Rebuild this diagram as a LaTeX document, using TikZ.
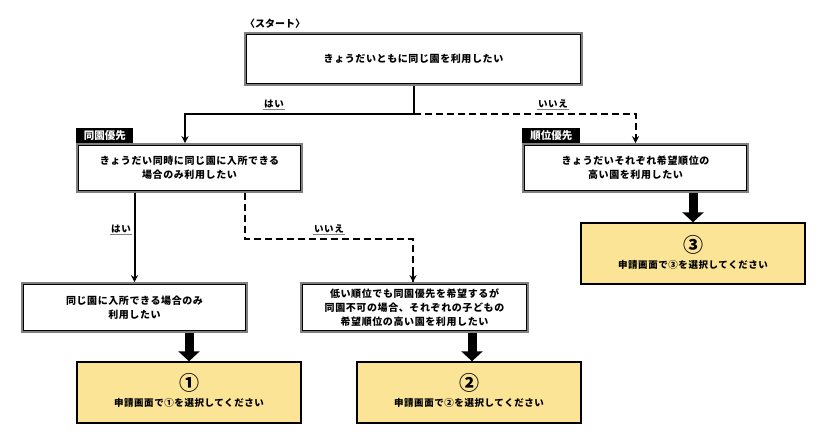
\documentclass[tikz,border=0pt]{standalone}
\usepackage{fontspec}
\usetikzlibrary{arrows.meta,calc}
\newfontfamily\jp{Noto Sans CJK JP}[LetterSpace=6]
\newfontfamily\jpn{Noto Sans CJK JP}
\definecolor{gold}{HTML}{FCE497}
\tikzset{
  outerbox/.style={draw=gray, line width=1.6pt, fill=white, inner sep=0pt},
  ybox/.style={draw=black, line width=1.4pt, fill=gold, inner sep=0pt},
  txt/.style={align=center, font=\jp\bfseries\fontsize{10}{14}\selectfont, inner sep=0pt},
  tag/.style={fill=black, text=white, font=\jpn\bfseries\fontsize{10.5}{12}\selectfont, inner sep=0pt, minimum height=15pt, anchor=south west},
  lbl/.style={font=\jp\bfseries\fontsize{9.5}{11}\selectfont, inner sep=1pt},
  conn/.style={line width=2pt, -{Stealth[length=7pt,width=7pt]}},
  plain/.style={line width=2pt},
  dashconn/.style={line width=2pt, dash pattern=on 7pt off 4pt},
  fat/.style={line width=9pt, -{Triangle[width=21pt,length=10pt]}},
  uline/.style={draw=gray, line width=1pt},
}
\newcommand{\dblbox}[5]{%
  \node[outerbox, minimum width=#3pt, minimum height=#4pt] (#1) at (#2) {};
  \draw[black, line width=1pt] ($(#1.north west)+(2.6,2.6)$) rectangle ($(#1.south east)+(-2.6,-2.6)$);
  \node[txt] (#1t) at (#1.center) {#5};
}
\begin{document}
\begin{tikzpicture}[x=1pt,y=-1pt]
\useasboundingbox (0,0) rectangle (832,440);
\fill[white] (0,0) rectangle (832,440);

% start label
\node[lbl, anchor=west, font=\jpn\bfseries\fontsize{10}{12}\selectfont] (st) at (244,24) {〈スタート〉};

% boxes
\dblbox{b1}{413.5,59}{337}{52}{きょうだいともに同じ園を利用したい}
\dblbox{b2}{189.5,168}{225}{48}{きょうだい同時に同じ園に入所できる\\場合のみ利用したい}
\dblbox{b3}{635.5,168}{225}{48}{きょうだいそれぞれ希望順位の\\高い園を利用したい}
\dblbox{b4}{134.5,307.5}{225}{49}{同じ園に入所できる場合のみ\\利用したい}
\dblbox{b5}{414.5,307.5}{227}{49}{低い順位でも同園優先を希望するが\\同園不可の場合、それぞれの子どもの\\希望順位の高い園を利用したい}

% tags
\node[tag, minimum width=57pt] (tg2) at (b2.north west) {同園優先};
\node[tag, minimum width=58pt] (tg3) at (b3.north west) {順位優先};

% yellow result boxes
\node[ybox, minimum width=224pt, minimum height=61pt] (b6) at (693,253.5) {};
\node[ybox, minimum width=224pt, minimum height=61pt] (b7) at (189,392.5) {};
\node[ybox, minimum width=224pt, minimum height=61pt] (b8) at (469,392.5) {};
\node[font=\jpn\bfseries\fontsize{20}{21}\selectfont, inner sep=0pt] (n6) at (693,245) {③};
\node[font=\jpn\bfseries\fontsize{20}{21}\selectfont, inner sep=0pt] (n7) at (189,383) {①};
\node[font=\jpn\bfseries\fontsize{20}{21}\selectfont, inner sep=0pt] (n8) at (469,383) {②};
\node[lbl] (s6) at (693,265) {申請画面で③を選択してください};
\node[lbl] (s7) at (189,403) {申請画面で①を選択してください};
\node[lbl] (s8) at (469,403) {申請画面で②を選択してください};

% connectors from b1
\coordinate (j1) at (b1.south |- 0,114);
\draw[plain] (b1.south) -- (j1);
\draw[conn] (j1) -| ([xshift=-4.5pt]b2.north);
\draw[dashconn] (j1) -| (b3.north);
\draw[conn] ($(b3.north)+(0,-8)$) -- (b3.north);

% connectors from b2
\draw[conn] (b2.south -| b4.north) -- (b4.north);
\coordinate (j2) at (245,239);
\draw[dashconn] (b2.south -| j2) -- (j2) -| ([xshift=-1.5pt]b5.north);
\draw[conn] ($([xshift=-1.5pt]b5.north)+(0,-8)$) -- ([xshift=-1.5pt]b5.north);

% fat arrows
\draw[fat] (b3.south -| b6.north) -- (b6.north);
\draw[fat] (b4.south -| b7.north) -- (b7.north);
\draw[fat] ([xshift=3pt]b5.south -| b8.north) -- ([xshift=3pt]b8.north);

% labels
\node[lbl] (l1) at (274,104) {はい};
\draw[uline] (l1.south west) -- (l1.south east);
\node[lbl] (l2) at (553,104) {いいえ};
\draw[uline] (l2.south west) -- (l2.south east);
\node[lbl] (l3) at (121,229) {はい};
\draw[uline] (l3.south west) -- (l3.south east);
\node[lbl] (l4) at (329,229) {いいえ};
\draw[uline] (l4.south west) -- (l4.south east);
\end{tikzpicture}
\end{document}
